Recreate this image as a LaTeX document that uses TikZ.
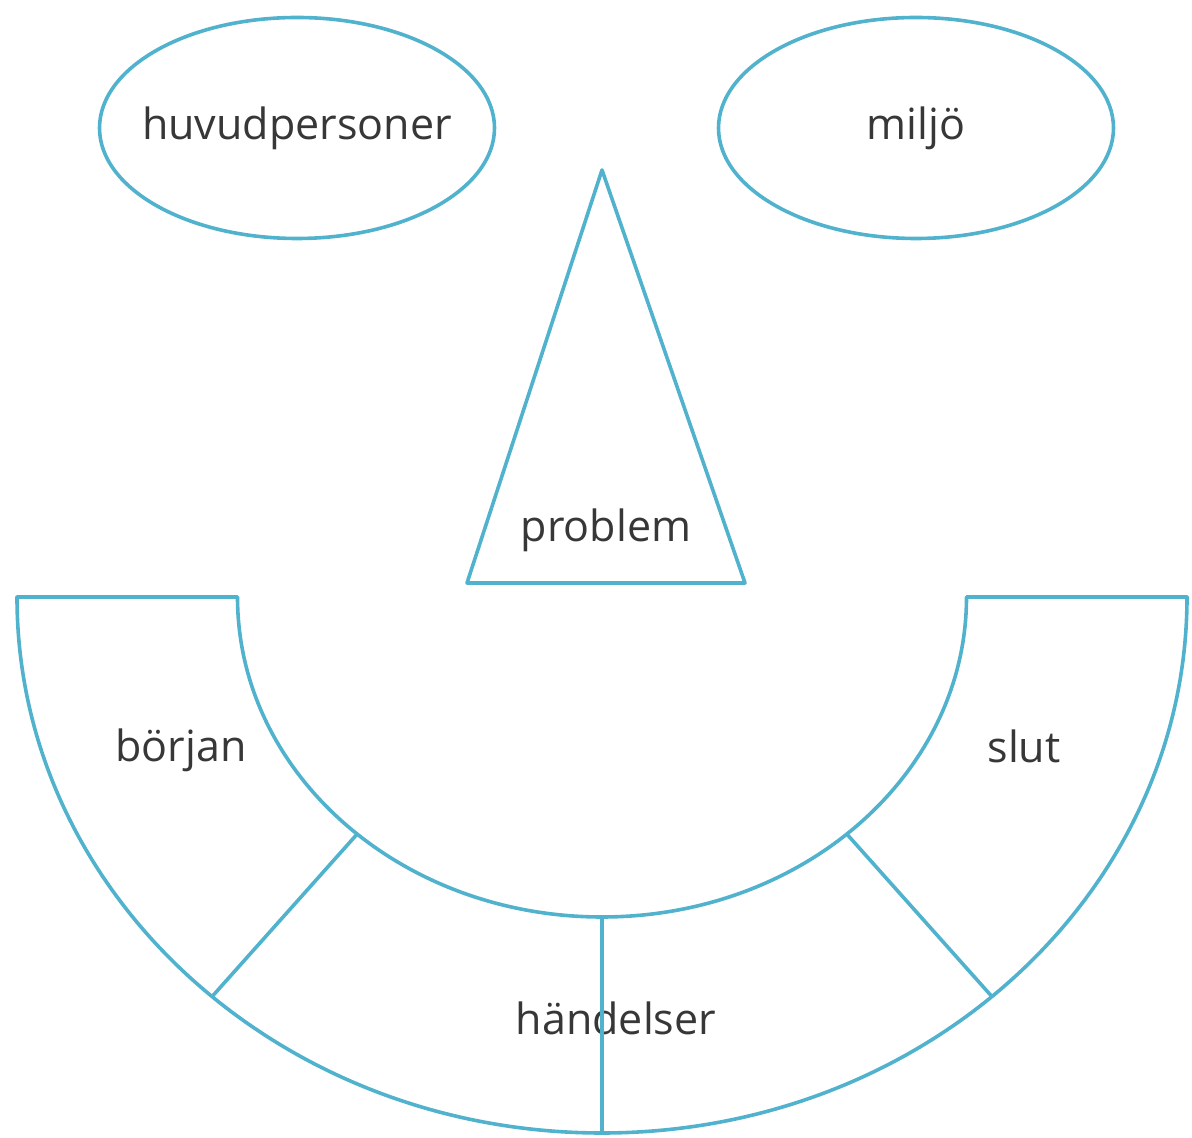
\documentclass[tikz,border=0pt]{standalone}
\usepackage{fontspec}
\setmainfont{Open Sans}
\usetikzlibrary{shapes.geometric,calc}
\definecolor{linec}{RGB}{80,178,205}
\definecolor{txtc}{RGB}{55,55,55}
\begin{document}
\begin{tikzpicture}[x=1pt,y=1pt,
  shapeline/.style={draw=linec,line width=3.6pt,line join=round},
  lbl/.style={text=txtc,font=\fontsize{43}{50}\selectfont,inner sep=0pt},
  oval/.style={shapeline,ellipse,inner sep=0pt,minimum width=395pt,minimum height=221pt}]
\useasboundingbox (0,0) rectangle (1192,1138);
% ovals
\node[oval] (huvud) at (297,1010) {};
\node[lbl] (huvudtxt) at (huvud.center) {huvudpersoner};
\node[oval] (miljo) at (916,1010) {};
\node[lbl] (miljotxt) at (miljo.center) {miljö};
% triangle
\coordinate (apex) at (602,968);
\coordinate (tl) at (467,555);
\coordinate (tr) at (745,555);
\draw[shapeline] (apex) -- (tr) -- (tl) -- cycle;
\node[lbl,anchor=base] (problem) at (606,596) {problem};
% half ring
\coordinate (c) at (602,541);
\coordinate (outl) at (17,541);
\coordinate (inl) at (237.5,541);
\coordinate (inr) at (966.5,541);
\coordinate (outr) at (1187,541);
\draw[shapeline] (outl) -- (inl)
  arc[start angle=180,end angle=360,x radius=364.5,y radius=320] -- (outr)
  arc[start angle=0,end angle=-180,x radius=585,y radius=536] -- cycle;
\coordinate (d1i) at ($(c)+(227.8:364.5 and 320)$);
\coordinate (d1o) at ($(c)+(228.2:585 and 536)$);
\coordinate (d2i) at ($(c)+(312.2:364.5 and 320)$);
\coordinate (d2o) at ($(c)+(311.8:585 and 536)$);
\coordinate (d3i) at ($(c)+(270:364.5 and 320)$);
\coordinate (d3o) at ($(c)+(270:585 and 536)$);
\node[lbl,anchor=base] (borjan) at (181,376) {början};
\node[lbl,anchor=base] (slut) at (1024,375) {slut};
\node[lbl,anchor=base] (handelser) at (616,103) {händelser};
\draw[shapeline] (d1i) -- (d1o);
\draw[shapeline] (d2i) -- (d2o);
\draw[shapeline] (d3i) -- (d3o);
\end{tikzpicture}
\end{document}
